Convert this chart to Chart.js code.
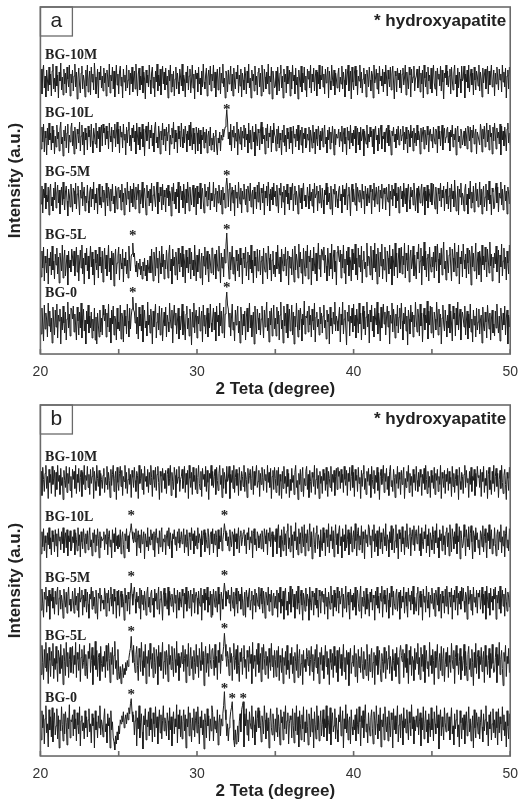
<!DOCTYPE html>
<html><head><meta charset="utf-8">
<script src="https://cdn.jsdelivr.net/npm/chart.js@4.4.0/dist/chart.umd.min.js"></script>
<style>
html,body{margin:0;padding:0;background:#fff;}
#wa{position:absolute;left:0;top:0;width:518px;height:400px;}
#wb{position:absolute;left:0;top:400px;width:518px;height:402px;}
</style>
</head><body>
<div id="wa"><canvas id="ca"></canvas></div>
<div id="wb"><canvas id="cb"></canvas></div>
<script>
// ---- x grid: 2-theta from 20 to 50 degrees, 0.05 degree step (one row = 1 degree) ----
const X_START = 20, X_STEP = 0.05;
const xMin = 20, xMax = 50, xTickStep = 5;

const sampleNames = ['BG-0', 'BG-5L', 'BG-5M', 'BG-10L', 'BG-10M'];
const tagA = 'a', tagB = 'b';
const noteText = '* hydroxyapatite';
const xTitle = '2 Teta (degree)';
const yTitle = 'Intensity (a.u.)';

// vertical stacking offsets (a.u.) for BG-0 .. BG-10M
const offsetsA = [8, 67, 137, 197, 254];
const offsetsB = [6, 69, 134, 195, 254];

// ---- panel a intensities ----
const a_BG10M = [
18,31,6,27,35,12,24,3,30,20,9,33,15,26,4,29,36,11,22,8,
34,14,25,2,28,19,37,10,23,5,31,16,27,7,33,21,13,35,4,26,
17,30,9,24,36,13,28,1,22,32,15,7,27,34,11,25,19,3,30,14,
35,8,21,29,5,33,18,26,10,37,23,6,16,31,2,28,20,34,12,24,
9,32,17,27,4,30,22,13,36,7,25,19,33,11,29,3,21,35,15,26,
6,28,34,14,23,2,31,18,25,9,35,12,20,30,5,27,16,33,8,22,
29,11,36,19,4,26,32,10,24,15,34,7,28,21,1,30,17,25,13,35,
20,6,27,33,12,23,3,29,18,36,9,25,14,31,5,22,34,16,28,10,
32,15,24,2,30,19,35,8,26,13,29,4,21,33,11,27,18,6,31,23,
14,36,9,25,20,3,28,17,34,10,24,31,7,19,35,12,26,1,30,21,
27,8,33,16,22,5,29,13,36,18,11,25,32,4,23,30,15,34,9,26,
19,35,12,28,3,24,31,10,20,33,6,27,17,36,13,22,2,29,25,8,
30,16,23,34,9,26,4,32,18,11,28,21,35,7,25,14,31,3,27,20,
10,33,25,6,29,17,36,12,22,2,30,19,26,9,34,15,24,5,28,32,
13,27,4,35,20,8,31,23,11,28,16,36,6,24,18,33,1,29,21,12,
14,29,5,33,21,9,27,35,12,24,2,31,18,26,7,34,16,22,30,4,
28,11,35,19,25,6,32,15,23,1,30,20,13,34,8,27,17,33,10,24,
3,31,21,29,12,35,7,26,18,32,9,23,30,4,28,16,35,11,25,20,
34,13,26,6,31,17,24,33,2,29,19,10,35,22,14,30,5,27,21,12,
25,32,8,23,16,34,11,28,20,3,31,15,26,35,9,22,29,1,33,18,
10,27,34,14,30,5,24,19,35,12,28,7,21,32,16,26,3,30,23,13,
33,20,9,29,25,2,35,17,22,31,11,27,6,34,19,24,14,31,8,28,
16,35,23,4,30,21,13,33,10,26,34,18,1,29,24,8,32,20,27,12,
30,7,26,32,15,22,35,5,28,19,11,33,25,3,31,17,23,34,9,21,
24,31,12,20,34,8,27,16,30,2,35,22,13,28,6,33,19,25,11,32,
7,23,35,17,11,29,4,32,21,26,14,34,9,30,18,1,27,22,35,15,
29,13,24,31,6,33,20,10,27,35,16,25,3,32,12,28,21,7,34,19,
22,34,2,26,18,30,12,35,8,23,31,15,27,5,33,20,10,29,24,14,
35,9,28,21,3,32,17,25,31,11,22,34,6,29,15,26,35,13,19,30,
4,27,16,33,23,10,31,20,26,8,35,18,28,13,32,2,24,30,11,33,
26];
const a_BG10L = [
22,8,30,15,33,5,26,19,2,29,12,34,17,24,7,31,14,27,3,21,
10,32,18,25,6,28,35,13,20,1,27,16,31,9,24,33,4,22,15,29,
34,11,26,3,30,19,8,28,23,14,35,6,21,32,12,25,2,29,17,24,
7,31,20,27,10,33,16,4,29,22,13,34,9,26,18,30,5,24,32,11,
33,24,29,12,31,18,26,8,34,21,15,30,5,27,19,33,10,24,35,13,
28,4,31,20,25,9,33,17,23,2,30,14,27,35,11,22,6,29,19,32,
15,26,3,34,21,12,30,7,25,18,33,10,28,1,24,31,16,22,35,8,
27,19,32,11,24,5,29,35,14,20,9,31,23,3,26,17,34,12,28,21,
6,30,16,25,33,2,22,13,29,19,35,8,27,15,24,4,31,18,26,10,
34,20,9,28,14,31,23,5,26,17,32,11,35,21,7,29,13,24,3,30,
24,6,29,13,27,3,22,17,30,9,25,14,28,4,21,26,11,30,7,19,
12,24,5,21,27,10,2,19,14,25,6,22,17,28,20,26,30,37,47,36,
18,25,12,33,6,27,20,31,9,24,16,35,2,28,22,13,30,7,26,19,
32,10,29,17,23,4,34,14,27,8,21,31,15,25,1,33,19,11,28,24,
7,26,35,13,30,18,22,3,29,16,33,9,24,20,31,5,27,14,34,23,
20,6,28,13,31,9,24,17,2,27,15,32,11,22,5,29,18,25,8,30,
14,26,3,31,19,23,10,28,16,32,7,21,27,12,30,4,24,18,29,9,
12,23,17,30,5,27,20,9,32,14,25,3,28,18,11,31,22,7,26,16,
29,10,24,32,13,20,4,27,17,30,8,25,14,31,21,2,28,12,23,19,
21,28,10,25,16,31,5,23,29,13,20,2,30,17,26,8,32,14,24,11,
27,18,31,4,22,29,12,25,7,30,16,21,28,1,26,19,13,32,9,23,
15,30,20,26,10,28,3,24,31,17,22,6,29,13,27,32,8,21,18,25,
5,24,29,14,32,11,27,19,2,26,21,30,15,23,9,28,17,31,12,20,
28,16,22,31,7,25,13,30,18,4,27,23,10,32,19,26,6,29,14,24,
11,32,17,26,21,3,29,15,24,30,8,27,20,12,31,22,5,25,28,16,
23,9,30,19,13,28,25,4,31,18,26,11,22,32,7,24,29,14,20,27,
30,14,25,6,27,20,32,10,23,17,29,2,26,31,15,21,9,28,24,12,
18,26,11,29,22,8,31,24,16,30,5,27,19,32,13,23,28,3,25,21,
21,12,33,26,5,28,18,31,10,23,34,15,27,7,32,20,24,3,30,16,
34,22,8,29,19,25,13,33,2,31,17,26,11,30,21,6,28,34,14,24,
12];
const a_BG5M = [
25,13,31,4,28,19,34,8,22,15,30,2,26,33,11,20,6,29,17,35,
9,24,32,14,27,3,21,30,12,35,18,7,25,31,16,1,28,22,10,33,
20,5,29,26,13,34,8,23,31,17,2,27,19,35,11,24,30,6,21,14,
32,16,4,25,30,10,28,18,35,7,23,14,29,3,26,33,12,20,9,31,
15,27,22,1,34,19,11,30,24,6,28,16,33,13,21,4,31,25,8,29,
30,19,27,7,33,15,24,2,29,21,12,35,18,26,5,31,14,28,10,34,
23,8,30,17,25,33,4,27,13,20,35,9,24,29,16,2,32,19,26,11,
28,14,34,6,22,31,18,10,26,35,3,24,15,30,21,7,33,12,27,20,
5,29,19,32,11,26,23,1,30,16,34,13,25,8,28,20,35,4,22,31,
17,26,9,33,21,3,28,14,35,24,6,30,18,12,27,32,10,23,29,2,
31,13,25,19,34,8,22,29,15,4,33,20,26,11,30,17,35,7,24,16,
18,35,10,23,29,5,26,14,32,20,12,27,3,30,17,24,9,31,39,30,
10,28,34,6,23,30,14,27,1,32,19,25,9,35,21,13,29,4,26,18,
33,20,12,28,5,31,24,16,34,10,22,27,3,30,18,25,8,32,15,35,
21,7,29,24,14,33,2,26,19,31,11,35,23,6,28,17,30,12,34,20,
26,11,32,18,4,29,22,34,9,25,15,31,2,27,20,33,13,24,7,30,
17,28,34,6,23,31,12,26,19,3,32,21,14,29,8,25,34,16,22,10,
13,30,21,8,33,16,25,11,28,4,34,19,23,31,6,26,14,32,20,9,
29,17,3,27,22,34,12,30,15,24,8,31,19,2,28,23,33,10,26,18,
9,27,31,16,23,4,32,20,28,12,25,34,7,22,30,18,1,26,33,15,
28,19,12,34,6,30,24,15,27,21,9,33,18,26,3,31,23,11,29,20,
14,32,25,3,28,17,34,10,22,30,13,24,31,5,27,19,33,8,25,29,
23,7,30,20,15,33,1,26,18,32,11,28,21,34,9,24,16,30,4,27,
31,18,26,10,34,22,13,29,5,25,33,17,8,30,20,27,12,34,23,6,
19,29,4,31,24,14,27,33,11,21,30,2,26,16,32,9,28,22,15,34,
12,25,33,17,8,30,21,3,29,23,16,34,10,27,19,31,6,24,28,13,
35,8,21,29,5,33,18,26,10,37,23,6,16,31,2,28,20,34,12,24,
20,6,27,33,12,23,3,29,18,36,9,25,14,31,5,22,34,16,28,10,
19,35,12,28,3,24,31,10,20,33,6,27,17,36,13,22,2,29,25,8,
10,27,34,14,30,5,24,19,35,12,28,7,21,32,16,26,3,30,23,13,
27];
const a_BG5L = [
27,10,36,19,40,6,31,24,14,38,3,29,21,35,12,41,17,26,8,33,
22,39,13,30,4,34,25,16,42,9,28,37,11,23,32,2,36,19,27,15,
38,30,21,36,11,27,40,15,32,6,25,37,19,42,13,29,3,34,22,39,
16,31,8,26,41,20,35,12,28,2,37,24,17,33,9,40,21,30,14,36,
5,27,39,18,32,11,25,42,15,29,7,36,22,34,1,28,38,13,24,31,
40,7,33,24,18,38,5,29,21,35,13,27,9,41,26,16,31,33,44,30,
34,22,15,26,10,24,18,28,12,21,8,25,16,29,11,22,6,27,19,14,
31,14,38,22,6,35,27,11,40,19,29,4,36,24,13,41,20,33,8,27,
18,37,25,9,33,42,16,28,3,38,21,30,12,35,26,7,39,23,15,34,
20,41,10,33,26,4,37,19,30,14,39,23,8,35,17,27,11,42,25,6,
32,15,29,38,9,24,34,2,31,21,40,12,27,36,18,5,33,25,14,39,
39,12,28,33,8,37,23,16,41,25,4,34,19,30,10,38,24,42,54,38,
23,8,35,17,28,41,13,30,20,6,37,26,16,33,10,39,22,29,3,34,
28,19,40,11,25,35,7,32,18,42,14,27,4,36,21,30,9,38,16,24,
37,12,26,31,3,39,20,15,34,24,8,41,29,17,33,6,27,36,13,22,
10,35,18,42,23,13,30,5,38,27,16,33,21,40,11,28,36,2,31,19,
30,12,38,22,5,41,17,33,26,9,43,20,35,14,28,3,39,24,11,36,
19,42,8,31,25,37,2,29,16,40,23,13,34,6,27,44,18,32,10,38,
36,27,40,14,32,21,6,39,25,11,34,18,43,8,29,37,15,26,2,35,
41,31,25,37,9,33,19,42,14,28,3,36,22,40,11,30,26,6,38,17,
34,23,43,12,29,7,39,20,32,15,41,4,27,36,18,25,10,44,21,31,
30,12,41,24,7,37,19,44,15,33,3,39,26,10,35,21,43,8,28,17,
40,23,5,36,29,13,42,18,31,2,38,25,11,44,20,34,9,27,39,14,
25,40,13,31,22,44,9,34,27,16,42,5,29,37,18,24,41,11,32,20,
8,35,28,43,14,26,39,2,31,21,45,17,36,10,29,33,6,40,23,15,
30,20,35,9,41,25,16,43,28,4,34,22,39,12,31,45,18,26,7,37,
24,14,32,40,21,6,38,29,15,44,26,11,35,19,42,3,30,23,36,10,
43,27,18,33,9,39,24,13,37,30,2,41,20,34,16,28,44,8,25,35,
12,36,29,5,42,22,31,17,40,25,10,38,27,14,45,21,33,6,30,19,
34,23,41,15,28,37,4,32,20,43,11,26,39,18,30,7,36,24,13,42,
26];
const a_BG0 = [
30,12,38,22,5,41,17,33,26,9,43,20,35,14,28,3,39,24,11,36,
19,42,8,31,25,37,2,29,16,40,23,13,34,6,27,44,18,32,10,38,
36,27,40,14,32,21,6,39,25,11,34,18,43,8,29,37,15,26,2,35,
22,41,13,30,18,34,8,27,15,38,6,29,2,33,21,9,36,14,28,11,
41,31,25,37,9,33,19,42,14,28,3,36,22,40,11,30,26,6,38,17,
24,15,41,7,33,28,4,36,20,30,12,42,25,9,38,17,30,37,49,36,
34,23,43,12,29,7,39,20,32,15,41,4,27,36,18,25,10,44,21,31,
13,37,26,2,35,19,30,42,8,24,33,16,40,11,28,38,5,22,34,20,
39,9,31,24,14,43,27,18,36,3,29,41,21,33,12,25,38,7,30,16,
26,42,11,35,21,6,32,40,17,28,10,37,24,1,34,19,43,13,29,36,
8,30,22,39,15,27,35,4,41,20,31,12,26,38,9,33,18,42,23,14,
28,38,16,34,5,40,24,31,10,43,20,35,13,27,39,8,32,45,54,41,
37,19,33,10,28,42,16,24,5,36,21,30,40,13,25,3,39,27,11,32,
20,35,6,29,38,14,26,43,18,31,9,24,34,2,40,22,12,37,28,16,
33,11,27,40,23,8,36,19,30,44,15,28,4,35,21,38,10,26,41,17,
28,10,39,22,35,6,31,44,17,26,3,40,20,33,13,42,8,29,37,15,
24,41,11,34,2,30,19,43,25,9,36,16,38,27,5,32,21,45,12,30,
28,35,14,40,21,31,9,37,25,16,43,4,29,34,19,27,11,39,22,33,
13,30,41,18,26,7,36,24,32,2,39,20,28,12,34,22,44,15,30,25,
15,29,39,4,32,21,44,12,27,36,18,1,34,25,41,10,30,23,38,14,
42,20,31,8,37,26,13,43,22,33,6,28,40,17,35,11,29,44,19,32,
3,36,24,41,15,30,9,38,27,21,44,12,33,25,5,39,18,31,42,22,
34,11,28,40,19,35,2,31,23,43,14,37,26,8,32,20,41,13,29,38,
17,43,25,6,33,22,39,15,30,1,36,27,12,41,24,34,9,31,19,44,
26,14,37,29,10,42,20,33,4,28,38,16,31,23,45,7,35,21,40,13,
39,24,8,34,27,16,44,30,11,37,19,32,2,28,41,22,15,36,25,9,
31,18,42,13,35,23,5,40,27,33,10,38,21,44,16,29,37,6,26,34,
28,19,40,11,25,35,7,32,18,42,14,27,4,36,21,30,9,38,16,24,
37,12,26,31,3,39,20,15,34,24,8,41,29,17,33,6,27,36,13,22,
10,35,18,42,23,13,30,5,38,27,16,33,21,40,11,28,36,2,31,19,
29];

// ---- panel b intensities ----
const b_BG10M = [
14,29,5,33,21,9,27,35,12,24,2,31,18,26,7,34,16,22,30,4,
28,11,35,19,25,6,32,15,23,1,30,20,13,34,8,27,17,33,10,24,
3,31,21,29,12,35,7,26,18,32,9,23,30,4,28,16,35,11,25,20,
34,13,26,6,31,17,24,33,2,29,19,10,35,22,14,30,5,27,21,12,
25,32,8,23,16,34,11,28,20,3,31,15,26,35,9,22,29,1,33,18,
10,27,34,14,30,5,24,19,35,12,28,7,21,32,16,26,3,30,23,13,
33,20,9,29,25,2,35,17,22,31,11,27,6,34,19,24,14,31,8,28,
16,35,23,4,30,21,13,33,10,26,34,18,1,29,24,8,32,20,27,12,
30,7,26,32,15,22,35,5,28,19,11,33,25,3,31,17,23,34,9,21,
24,31,12,20,34,8,27,16,30,2,35,22,13,28,6,33,19,25,11,32,
7,23,35,17,11,29,4,32,21,26,14,34,9,30,18,1,27,22,35,15,
29,13,24,31,6,33,20,10,27,35,16,25,3,32,12,28,21,7,34,19,
22,34,2,26,18,30,12,35,8,23,31,15,27,5,33,20,10,29,24,14,
35,9,28,21,3,32,17,25,31,11,22,34,6,29,15,26,35,13,19,30,
4,27,16,33,23,10,31,20,26,8,35,18,28,13,32,2,24,30,11,33,
22,8,30,15,33,5,26,19,2,29,12,34,17,24,7,31,14,27,3,21,
10,32,18,25,6,28,35,13,20,1,27,16,31,9,24,33,4,22,15,29,
34,11,26,3,30,19,8,28,23,14,35,6,21,32,12,25,2,29,17,24,
7,31,20,27,10,33,16,4,29,22,13,34,9,26,18,30,5,24,32,11,
33,24,29,12,31,18,26,8,34,21,15,30,5,27,19,33,10,24,35,13,
28,4,31,20,25,9,33,17,23,2,30,14,27,35,11,22,6,29,19,32,
15,26,3,34,21,12,30,7,25,18,33,10,28,1,24,31,16,22,35,8,
27,19,32,11,24,5,29,35,14,20,9,31,23,3,26,17,34,12,28,21,
6,30,16,25,33,2,22,13,29,19,35,8,27,15,24,4,31,18,26,10,
34,20,9,28,14,31,23,5,26,17,32,11,35,21,7,29,13,24,3,30,
18,25,12,33,6,27,20,31,9,24,16,35,2,28,22,13,30,7,26,19,
32,10,29,17,23,4,34,14,27,8,21,31,15,25,1,33,19,11,28,24,
7,26,35,13,30,18,22,3,29,16,33,9,24,20,31,5,27,14,34,23,
25,13,31,4,28,19,34,8,22,15,30,2,26,33,11,20,6,29,17,35,
9,24,32,14,27,3,21,30,12,35,18,7,25,31,16,1,28,22,10,33,
22];
const b_BG10L = [
20,6,28,13,31,9,24,17,2,27,15,32,11,22,5,29,18,25,8,30,
14,26,3,31,19,23,10,28,16,32,7,21,27,12,30,4,24,18,29,9,
12,23,17,30,5,27,20,9,32,14,25,3,28,18,11,31,22,7,26,16,
29,10,24,32,13,20,4,27,17,30,8,25,14,31,21,2,28,12,23,19,
21,28,10,25,16,31,5,23,29,13,20,2,30,17,26,8,32,14,24,11,
25,13,30,6,22,28,15,2,26,19,31,11,24,8,26,29,36,28,21,17,
27,18,31,4,22,29,12,25,7,30,16,21,28,1,26,19,13,32,9,23,
15,30,20,26,10,28,3,24,31,17,22,6,29,13,27,32,8,21,18,25,
5,24,29,14,32,11,27,19,2,26,21,30,15,23,9,28,17,31,12,20,
28,16,22,31,7,25,13,30,18,4,27,23,10,32,19,26,6,29,14,24,
11,32,17,26,21,3,29,15,24,30,8,27,20,12,31,22,5,25,28,16,
31,7,26,15,29,22,3,30,11,24,18,32,9,20,27,36,29,19,27,14,
23,9,30,19,13,28,25,4,31,18,26,11,22,32,7,24,29,14,20,27,
30,14,25,6,27,20,32,10,23,17,29,2,26,31,15,21,9,28,24,12,
18,26,11,29,22,8,31,24,16,30,5,27,19,32,13,23,28,3,25,21,
18,31,6,27,35,12,24,3,30,20,9,33,15,26,4,29,36,11,22,8,
34,14,25,2,28,19,37,10,23,5,31,16,27,7,33,21,13,35,4,26,
17,30,9,24,36,13,28,1,22,32,15,7,27,34,11,25,19,3,30,14,
9,32,17,27,4,30,22,13,36,7,25,19,33,11,29,3,21,35,15,26,
6,28,34,14,23,2,31,18,25,9,35,12,20,30,5,27,16,33,8,22,
29,11,36,19,4,26,32,10,24,15,34,7,28,21,1,30,17,25,13,35,
32,15,24,2,30,19,35,8,26,13,29,4,21,33,11,27,18,6,31,23,
14,36,9,25,20,3,28,17,34,10,24,31,7,19,35,12,26,1,30,21,
27,8,33,16,22,5,29,13,36,18,11,25,32,4,23,30,15,34,9,26,
30,16,23,34,9,26,4,32,18,11,28,21,35,7,25,14,31,3,27,20,
10,33,25,6,29,17,36,12,22,2,30,19,26,9,34,15,24,5,28,32,
13,27,4,35,20,8,31,23,11,28,16,36,6,24,18,33,1,29,21,12,
16,35,23,4,30,21,13,33,10,26,34,18,1,29,24,8,32,20,27,12,
20,5,29,26,13,34,8,23,31,17,2,27,19,35,11,24,30,6,21,14,
32,16,4,25,30,10,28,18,35,7,23,14,29,3,26,33,12,20,9,31,
15];
const b_BG5M = [
26,11,32,18,4,29,22,34,9,25,15,31,2,27,20,33,13,24,7,30,
17,28,34,6,23,31,12,26,19,3,32,21,14,29,8,25,34,16,22,10,
13,30,21,8,33,16,25,11,28,4,34,19,23,31,6,26,14,32,20,9,
29,17,3,27,22,34,12,30,15,24,8,31,19,2,28,23,33,10,26,18,
21,12,33,26,5,28,18,31,10,23,34,15,27,7,32,20,24,3,30,16,
31,5,24,30,14,27,20,1,33,18,26,10,29,22,7,28,38,27,16,28,
34,22,8,29,19,25,13,33,2,31,17,26,11,30,21,6,28,34,14,24,
9,27,31,16,23,4,32,20,28,12,25,34,7,22,30,18,1,26,33,15,
28,19,12,34,6,30,24,15,27,21,9,33,18,26,3,31,23,11,29,20,
14,32,25,3,28,17,34,10,22,30,13,24,31,5,27,19,33,8,25,29,
23,7,30,20,15,33,1,26,18,32,11,28,21,34,9,24,16,30,4,27,
6,32,24,14,30,20,9,34,17,27,1,29,22,12,29,38,30,15,29,22,
31,18,26,10,34,22,13,29,5,25,33,17,8,30,20,27,12,34,23,6,
19,29,4,31,24,14,27,33,11,21,30,2,26,16,32,9,28,22,15,34,
12,25,33,17,8,30,21,3,29,23,16,34,10,27,19,31,6,24,28,13,
25,13,31,4,28,19,34,8,22,15,30,2,26,33,11,20,6,29,17,35,
9,24,32,14,27,3,21,30,12,35,18,7,25,31,16,1,28,22,10,33,
15,27,22,1,34,19,11,30,24,6,28,16,33,13,21,4,31,25,8,29,
30,19,27,7,33,15,24,2,29,21,12,35,18,26,5,31,14,28,10,34,
23,8,30,17,25,33,4,27,13,20,35,9,24,29,16,2,32,19,26,11,
28,14,34,6,22,31,18,10,26,35,3,24,15,30,21,7,33,12,27,20,
5,29,19,32,11,26,23,1,30,16,34,13,25,8,28,20,35,4,22,31,
17,26,9,33,21,3,28,14,35,24,6,30,18,12,27,32,10,23,29,2,
31,13,25,19,34,8,22,29,15,4,33,20,26,11,30,17,35,7,24,16,
10,28,34,6,23,30,14,27,1,32,19,25,9,35,21,13,29,4,26,18,
33,20,12,28,5,31,24,16,34,10,22,27,3,30,18,25,8,32,15,35,
21,7,29,24,14,33,2,26,19,31,11,35,23,6,28,17,30,12,34,20,
33,20,9,29,25,2,35,17,22,31,11,27,6,34,19,24,14,31,8,28,
24,31,12,20,34,8,27,16,30,2,35,22,13,28,6,33,19,25,11,32,
22,34,2,26,18,30,12,35,8,23,31,15,27,5,33,20,10,29,24,14,
30];
const b_BG5L = [
30,12,41,24,7,37,19,44,15,33,3,39,26,10,35,21,43,8,28,17,
40,23,5,36,29,13,42,18,31,2,38,25,11,44,20,34,9,27,39,14,
25,40,13,31,22,44,9,34,27,16,42,5,29,37,18,24,41,11,32,20,
8,35,28,43,14,26,39,2,31,21,45,17,36,10,29,33,6,40,23,15,
30,20,35,9,41,25,16,43,28,4,34,22,39,12,31,45,18,26,7,37,
15,8,20,3,14,22,9,18,12,24,16,26,20,28,34,38,50,36,24,41,
24,14,32,40,21,6,38,29,15,44,26,11,35,19,42,3,30,23,36,10,
43,27,18,33,9,39,24,13,37,30,2,41,20,34,16,28,44,8,25,35,
12,36,29,5,42,22,31,17,40,25,10,38,27,14,45,21,33,6,30,19,
34,23,41,15,28,37,4,32,20,43,11,26,39,18,30,7,36,24,13,42,
20,31,9,38,26,16,44,22,35,1,29,40,14,33,23,10,42,27,18,36,
38,27,11,42,19,30,7,36,24,44,13,32,26,32,40,53,42,30,20,35,
28,11,39,24,33,6,30,43,17,26,37,13,41,21,5,34,25,38,12,29,
41,19,27,8,36,29,15,40,23,32,3,44,18,31,25,10,37,22,43,14,
26,33,5,39,17,42,28,12,35,21,30,8,38,24,16,43,20,31,9,36,
27,10,36,19,40,6,31,24,14,38,3,29,21,35,12,41,17,26,8,33,
22,39,13,30,4,34,25,16,42,9,28,37,11,23,32,2,36,19,27,15,
38,30,21,36,11,27,40,15,32,6,25,37,19,42,13,29,3,34,22,39,
16,31,8,26,41,20,35,12,28,2,37,24,17,33,9,40,21,30,14,36,
5,27,39,18,32,11,25,42,15,29,7,36,22,34,1,28,38,13,24,31,
20,41,10,33,26,4,37,19,30,14,39,23,8,35,17,27,11,42,25,6,
32,15,29,38,9,24,34,2,31,21,40,12,27,36,18,5,33,25,14,39,
23,8,35,17,28,41,13,30,20,6,37,26,16,33,10,39,22,29,3,34,
41,31,25,37,9,33,19,42,14,28,3,36,22,40,11,30,26,6,38,17,
34,23,43,12,29,7,39,20,32,15,41,4,27,36,18,25,10,44,21,31,
13,37,26,2,35,19,30,42,8,24,33,16,40,11,28,38,5,22,34,20,
39,9,31,24,14,43,27,18,36,3,29,41,21,33,12,25,38,7,30,16,
26,42,11,35,21,6,32,40,17,28,10,37,24,1,34,19,43,13,29,36,
8,30,22,39,15,27,35,4,41,20,31,12,26,38,9,33,18,42,23,14,
15,29,39,4,32,21,44,12,27,36,18,1,34,25,41,10,30,23,38,14,
27];
const b_BG0 = [
28,10,39,22,35,6,31,44,17,26,3,40,20,33,13,42,8,29,37,15,
24,41,11,34,2,30,19,43,25,9,36,16,38,27,5,32,21,45,12,30,
28,35,14,40,21,31,9,37,25,16,43,4,29,34,19,27,11,39,22,33,
13,30,41,18,26,7,36,24,32,2,39,20,28,12,34,22,44,15,30,25,
13,30,41,18,26,7,36,24,32,2,39,20,28,12,8,0,14,6,18,10,
24,16,30,26,34,28,38,22,30,35,26,37,30,42,36,46,51,38,28,35,
15,29,39,4,32,21,44,12,27,36,18,1,34,25,41,10,30,23,38,14,
42,20,31,8,37,26,13,43,22,33,6,28,40,17,35,11,29,44,19,32,
26,14,37,29,10,42,20,33,4,28,38,16,31,23,45,7,35,21,40,13,
34,11,28,40,19,35,2,31,23,43,14,37,26,8,32,20,41,13,29,38,
17,43,25,6,33,22,39,15,30,1,36,27,12,41,24,34,9,31,19,44,
37,9,33,21,29,17,40,5,27,35,14,31,24,36,44,58,40,30,14,26,
9,22,30,38,42,48,30,10,3,20,6,14,24,8,28,36,18,40,44,48,
3,36,24,41,15,30,9,38,27,21,44,12,33,25,5,39,18,31,42,22,
39,24,8,34,27,16,44,30,11,37,19,32,2,28,41,22,15,36,25,9,
31,18,42,13,35,23,5,40,27,33,10,38,21,44,16,29,37,6,26,34,
30,12,41,24,7,37,19,44,15,33,3,39,26,10,35,21,43,8,28,17,
40,23,5,36,29,13,42,18,31,2,38,25,11,44,20,34,9,27,39,14,
25,40,13,31,22,44,9,34,27,16,42,5,29,37,18,24,41,11,32,20,
8,35,28,43,14,26,39,2,31,21,45,17,36,10,29,33,6,40,23,15,
30,20,35,9,41,25,16,43,28,4,34,22,39,12,31,45,18,26,7,37,
24,14,32,40,21,6,38,29,15,44,26,11,35,19,42,3,30,23,36,10,
43,27,18,33,9,39,24,13,37,30,2,41,20,34,16,28,44,8,25,35,
12,36,29,5,42,22,31,17,40,25,10,38,27,14,45,21,33,6,30,19,
34,23,41,15,28,37,4,32,20,43,11,26,39,18,30,7,36,24,13,42,
20,31,9,38,26,16,44,22,35,1,29,40,14,33,23,10,42,27,18,36,
37,19,33,10,28,42,16,24,5,36,21,30,40,13,25,3,39,27,11,32,
20,35,6,29,38,14,26,43,18,31,9,24,34,2,40,22,12,37,28,16,
33,11,27,40,23,8,36,19,30,44,15,28,4,35,21,38,10,26,41,17,
30,12,38,22,5,41,17,33,26,9,43,20,35,14,28,3,39,24,11,36,
20];

// ---- annotation positions (data units) ----
const labelX = 20.3;
const labelYA = [61, 119, 182, 241, 299];
const labelYB = [57, 119, 177, 237, 297];
const starXA = [31.9, 31.9, 25.9, 31.9, 25.9, 31.9];
const starYA = [247, 181, 121, 127, 64, 69];
const starXB = [25.8, 31.75, 25.8, 31.75, 25.8, 31.75, 25.8, 31.75, 32.25, 32.95];
const starYB = [242, 242, 181, 182, 126, 129, 64, 70, 60, 60];
const yMaxA = 347, yMaxB = 349;

Chart.defaults.font.family = '"Liberation Sans", Arial, sans-serif';

function decorPlugin(tag, labelY, starX, starY) {
  return {
    id: 'decor' + tag,
    afterDraw(chart) {
      const {ctx, chartArea: a, scales: {x, y}} = chart;
      ctx.save();
      ctx.strokeStyle = '#6a6a6a';
      ctx.lineWidth = 1.6;
      ctx.strokeRect(a.left, a.top, a.right - a.left, a.bottom - a.top);
      ctx.beginPath();
      x.ticks.forEach(t => {
        const px = x.getPixelForValue(t.value);
        ctx.moveTo(px, a.bottom);
        ctx.lineTo(px, a.bottom - 5);
      });
      ctx.stroke();
      ctx.lineWidth = 1.3;
      ctx.strokeRect(a.left, a.top, 32, 29);
      ctx.fillStyle = '#222';
      ctx.font = '21px "Liberation Sans"';
      ctx.textAlign = 'center';
      ctx.textBaseline = 'middle';
      ctx.fillText(tag, a.left + 16, a.top + 14);
      ctx.font = 'bold 17px "Liberation Sans"';
      ctx.textAlign = 'right';
      ctx.fillText(noteText, a.right - 4, a.top + 14);
      ctx.font = 'bold 14px "Liberation Serif"';
      ctx.textAlign = 'left';
      sampleNames.forEach((n, i) => {
        ctx.fillText(n, x.getPixelForValue(labelX), y.getPixelForValue(labelY[i]));
      });
      ctx.font = 'bold 15px "Liberation Serif"';
      ctx.textAlign = 'center';
      ctx.textBaseline = 'alphabetic';
      starX.forEach((sx, i) => {
        ctx.fillText('*', x.getPixelForValue(sx), y.getPixelForValue(starY[i]) + 7);
      });
      ctx.restore();
    }
  };
}

function makeChart(id, series, offsets, yMax, topPad, tag, labelY, starX, starY) {
  const datasets = series.map((s, i) => ({
    data: s.map((v, j) => ({x: X_START + j * X_STEP, y: offsets[i] + v})),
    borderColor: '#1e1e1e',
    borderWidth: 1,
    pointRadius: 0,
    tension: 0,
    fill: false
  }));
  return new Chart(document.getElementById(id), {
    type: 'line',
    data: {datasets},
    options: {
      animation: false,
      responsive: true,
      maintainAspectRatio: false,
      layout: {padding: {top: topPad, right: 0, bottom: 0, left: 0}},
      plugins: {legend: {display: false}, tooltip: {enabled: false}},
      scales: {
        x: {
          type: 'linear', min: xMin, max: xMax,
          ticks: {stepSize: xTickStep, autoSkip: false, maxRotation: 0, padding: 0,
            color: '#333', font: {size: 14, lineHeight: 2.57},
            callback: v => (v % 10 === 0 ? String(v) : '')},
          grid: {display: false, drawTicks: false},
          border: {display: false},
          title: {display: true, text: xTitle, color: '#222',
            font: {size: 17, weight: 'bold'}, padding: {top: -10.4, bottom: 0}}
        },
        y: {
          min: 0, max: yMax,
          ticks: {display: false},
          grid: {display: false, drawTicks: false},
          border: {display: false},
          title: {display: true, text: yTitle, color: '#222',
            font: {size: 17, weight: 'bold'}, padding: {top: 5, bottom: 15}}
        }
      }
    },
    plugins: [decorPlugin(tag, labelY, starX, starY)]
  });
}

makeChart('ca', [a_BG0, a_BG5L, a_BG5M, a_BG10L, a_BG10M], offsetsA, yMaxA, 7, tagA, labelYA, starXA, starYA);
makeChart('cb', [b_BG0, b_BG5L, b_BG5M, b_BG10L, b_BG10M], offsetsB, yMaxB, 5, tagB, labelYB, starXB, starYB);
</script>
</body></html>
